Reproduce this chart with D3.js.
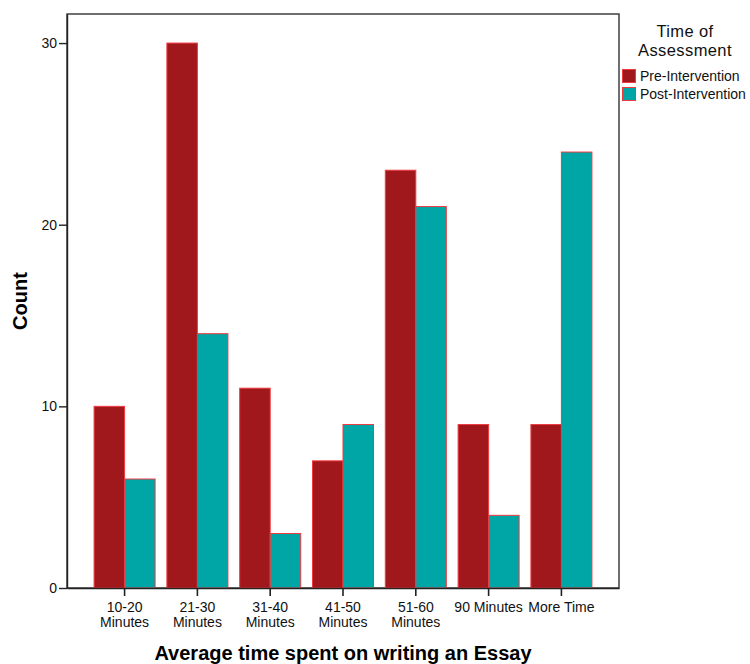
<!DOCTYPE html>
<html>
<head>
<meta charset="utf-8">
<script src="https://cdn.jsdelivr.net/npm/d3@7"></script>
<style>
  html, body { margin: 0; padding: 0; background: #fff; }
  text { font-family: "Liberation Sans", Arial, sans-serif; }
</style>
</head>
<body>
<svg id="chart" width="750" height="664"></svg>
<script>
const categories = ["10-20 Minutes", "21-30 Minutes", "31-40 Minutes", "41-50 Minutes", "51-60 Minutes", "90 Minutes", "More Time"];
const categoryLines = [["10-20", "Minutes"], ["21-30", "Minutes"], ["31-40", "Minutes"], ["41-50", "Minutes"], ["51-60", "Minutes"], ["90 Minutes"], ["More Time"]];
const seriesNames = ["Pre-Intervention", "Post-Intervention"];
const preValues = [10, 30, 11, 7, 23, 9, 9];
const postValues = [6, 14, 3, 9, 21, 4, 24];
const yTicks = [0, 10, 20, 30];
const colors = ["#A0171C", "#00A6A6"];

const svg = d3.select("#chart");
const L = 67, R = 619, T = 14, B = 588;

const x = d3.scaleBand().domain(categories).range([L, R]).paddingInner(0.162).paddingOuter(0.372);
const xs = d3.scaleBand().domain(seriesNames).range([0, x.bandwidth()]).padding(0);
const y = d3.scaleLinear().domain([0, 31.6]).range([B, T]);

const seriesValues = [preValues, postValues];
const data = [];
categories.forEach((c, i) => seriesNames.forEach((s, j) => data.push({c, s, v: seriesValues[j][i], j})));

// frame
svg.append("rect").attr("x", L).attr("y", T).attr("width", R - L).attr("height", B - T)
  .attr("fill", "none").attr("stroke", "#333").attr("stroke-width", 1.4);

// bars
svg.append("g").selectAll("rect").data(data).join("rect")
  .attr("x", d => x(d.c) + xs(d.s))
  .attr("y", d => y(d.v))
  .attr("width", xs.bandwidth())
  .attr("height", d => B - y(d.v))
  .attr("fill", d => colors[d.j])
  .attr("stroke", "#EE3B40")
  .attr("stroke-width", 1);

// y axis
const yAxis = svg.append("g").attr("transform", `translate(${L},0)`)
  .call(d3.axisLeft(y).tickValues(yTicks).tickSize(8).tickSizeOuter(0).tickPadding(2).tickFormat(d3.format("d")));
yAxis.select(".domain").attr("stroke", "#222").attr("stroke-width", 1.4);
yAxis.selectAll(".tick line").attr("stroke", "#222").attr("stroke-width", 1.4);
yAxis.selectAll(".tick text").attr("font-size", 14).attr("fill", "#111").attr("font-family", "Liberation Sans, Arial, sans-serif");

// x axis
const xAxis = svg.append("g").attr("transform", `translate(0,${B})`)
  .call(d3.axisBottom(x).tickSize(8).tickSizeOuter(0).tickFormat(""));
xAxis.select(".domain").attr("stroke", "#222").attr("stroke-width", 1.4);
xAxis.selectAll(".tick line").attr("stroke", "#222").attr("stroke-width", 1.6);
xAxis.selectAll(".tick").each(function(d, i) {
  const t = d3.select(this).append("text")
    .attr("text-anchor", "middle").attr("font-size", 14).attr("fill", "#111")
    .attr("font-family", "Liberation Sans, Arial, sans-serif");
  categoryLines[i].forEach((line, k) => {
    t.append("tspan").attr("x", 0).attr("y", 24 + k * 15).text(line);
  });
});

// axis titles
svg.append("text").attr("x", (L + R) / 2).attr("y", 660).attr("text-anchor", "middle")
  .attr("font-size", 20).attr("font-weight", "bold").attr("fill", "#000")
  .text("Average time spent on writing an Essay");
svg.append("text").attr("transform", `translate(27,${(T + B) / 2}) rotate(-90)`)
  .attr("text-anchor", "middle").attr("font-size", 20).attr("font-weight", "bold").attr("fill", "#000")
  .text("Count");

// legend
const lg = svg.append("g");
lg.append("text").attr("x", 685).attr("y", 37).attr("text-anchor", "middle").attr("font-size", 16.5).attr("letter-spacing", 0.4).attr("fill", "#111").text("Time of");
lg.append("text").attr("x", 685).attr("y", 56).attr("text-anchor", "middle").attr("font-size", 16.5).attr("letter-spacing", 0.4).attr("fill", "#111").text("Assessment");
seriesNames.forEach((s, j) => {
  lg.append("rect").attr("x", 622.5).attr("y", 69.5 + j * 18).attr("width", 13).attr("height", 13)
    .attr("fill", colors[j]).attr("stroke", "#EE3B40").attr("stroke-width", 1);
  lg.append("text").attr("x", 640).attr("y", 81 + j * 18).attr("font-size", 14).attr("fill", "#111").text(s);
});
</script>
</body>
</html>
